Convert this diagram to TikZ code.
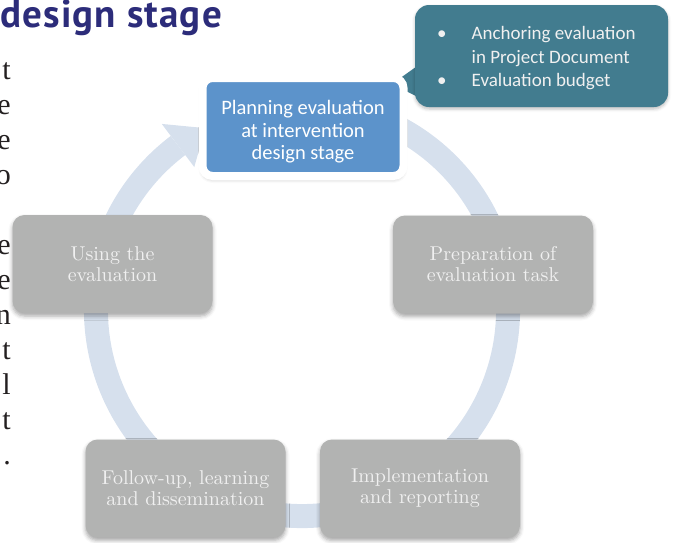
\documentclass[tikz,border=0pt]{standalone}
\usepackage{fontspec}
\newfontfamily\calibri{Carlito}
\newfontfamily\headsans{PT Sans}
\newfontfamily\pageserif{Liberation Serif}
\newfontfamily\stageserif{lmroman10-regular}[Extension=.otf]
\usetikzlibrary{shadows.blur}

\definecolor{titleblue}{RGB}{44,44,122}
\definecolor{pageink}{RGB}{35,31,32}
\definecolor{planblue}{RGB}{92,147,203}
\definecolor{stagegray}{RGB}{178,179,178}
\definecolor{stagetext}{RGB}{240,240,240}
\definecolor{noteteal}{RGB}{66,124,143}
\definecolor{ringblue}{RGB}{214,224,237}

\tikzset{
  stagebox/.style={fill=stagegray, rounded corners=12pt, minimum width=200pt, minimum height=98pt,
    text=stagetext, align=center, font=\stageserif\fontsize{20}{21}\selectfont,
    blur shadow={shadow xshift=0pt, shadow yshift=-3pt, shadow blur radius=4pt, shadow opacity=35}},
  planbox/.style={fill=planblue, draw=white, line width=8pt, rounded corners=10pt,
    minimum width=201pt, minimum height=98pt, text=white, align=center,
    font=\calibri\fontsize{20.5}{22.5}\selectfont,
    blur shadow={shadow xshift=0pt, shadow yshift=-3pt, shadow blur radius=4pt, shadow opacity=30}},
  notebox/.style={fill=noteteal, rounded corners=14pt, minimum width=253pt, minimum height=102pt,
    blur shadow={shadow xshift=0pt, shadow yshift=-2pt, shadow blur radius=3pt, shadow opacity=25}},
  notetext/.style={text=stagetext, font=\calibri\fontsize{19}{23.5}\selectfont, inner sep=0pt},
  cyclering/.style={draw=ringblue, line width=24pt},
  pagetext/.style={text=pageink, font=\pageserif\fontsize{30}{35}\selectfont, inner sep=0pt, anchor=base east}
}

\begin{document}
\begin{tikzpicture}[x=1pt,y=-1pt]
\clip (0,0) rectangle (676,542);

\node[anchor=base west, inner sep=0pt, text=titleblue,
  font=\headsans\bfseries\fontsize{39}{40}\selectfont\addfontfeature{LetterSpace=3}] (title) at (0,27) {design stage};
\foreach \ch [count=\k from 0] in {t,e,e,o,{},e,e,n,t,l,t,.}
  \node[pagetext] (frag\k) at (11,79+35*\k) {\ch};

\coordinate (hub) at (302,310);
\draw[cyclering] (hub) +(-70:206) arc[start angle=-70, end angle=233, radius=206];
\fill[ringblue] (hub) +(233:233) -- +(233:179) -- +(242:206) -- cycle;

\fill[noteteal] (420,64) -- (392,84) -- (420,98) -- cycle;
\node[notebox] (note) at (541.5,56) {};
\node[notetext, anchor=base west] (notetext) at (437,39.5)
  {\begin{tabular}[t]{@{}l@{\hspace{25pt}}l@{}}
   \textbullet & Anchoring evaluation\\
               & in Project Document\\
   \textbullet & Evaluation budget
   \end{tabular}};

\node[planbox] (plan) at (303,127) {\rule{0pt}{24pt}Planning evaluation\\at intervention\\design stage};
\node[stagebox] (prep) at (493,264.5) {Preparation of\\evaluation task};
\node[stagebox] (impl) at (420,488.5) {Implementation\\and reporting};
\node[stagebox] (follow) at (185.5,488.5) {Follow-up, learning\\and dissemination};
\node[stagebox] (using) at (112.5,264) {Using the\\evaluation};
\end{tikzpicture}
\end{document}
